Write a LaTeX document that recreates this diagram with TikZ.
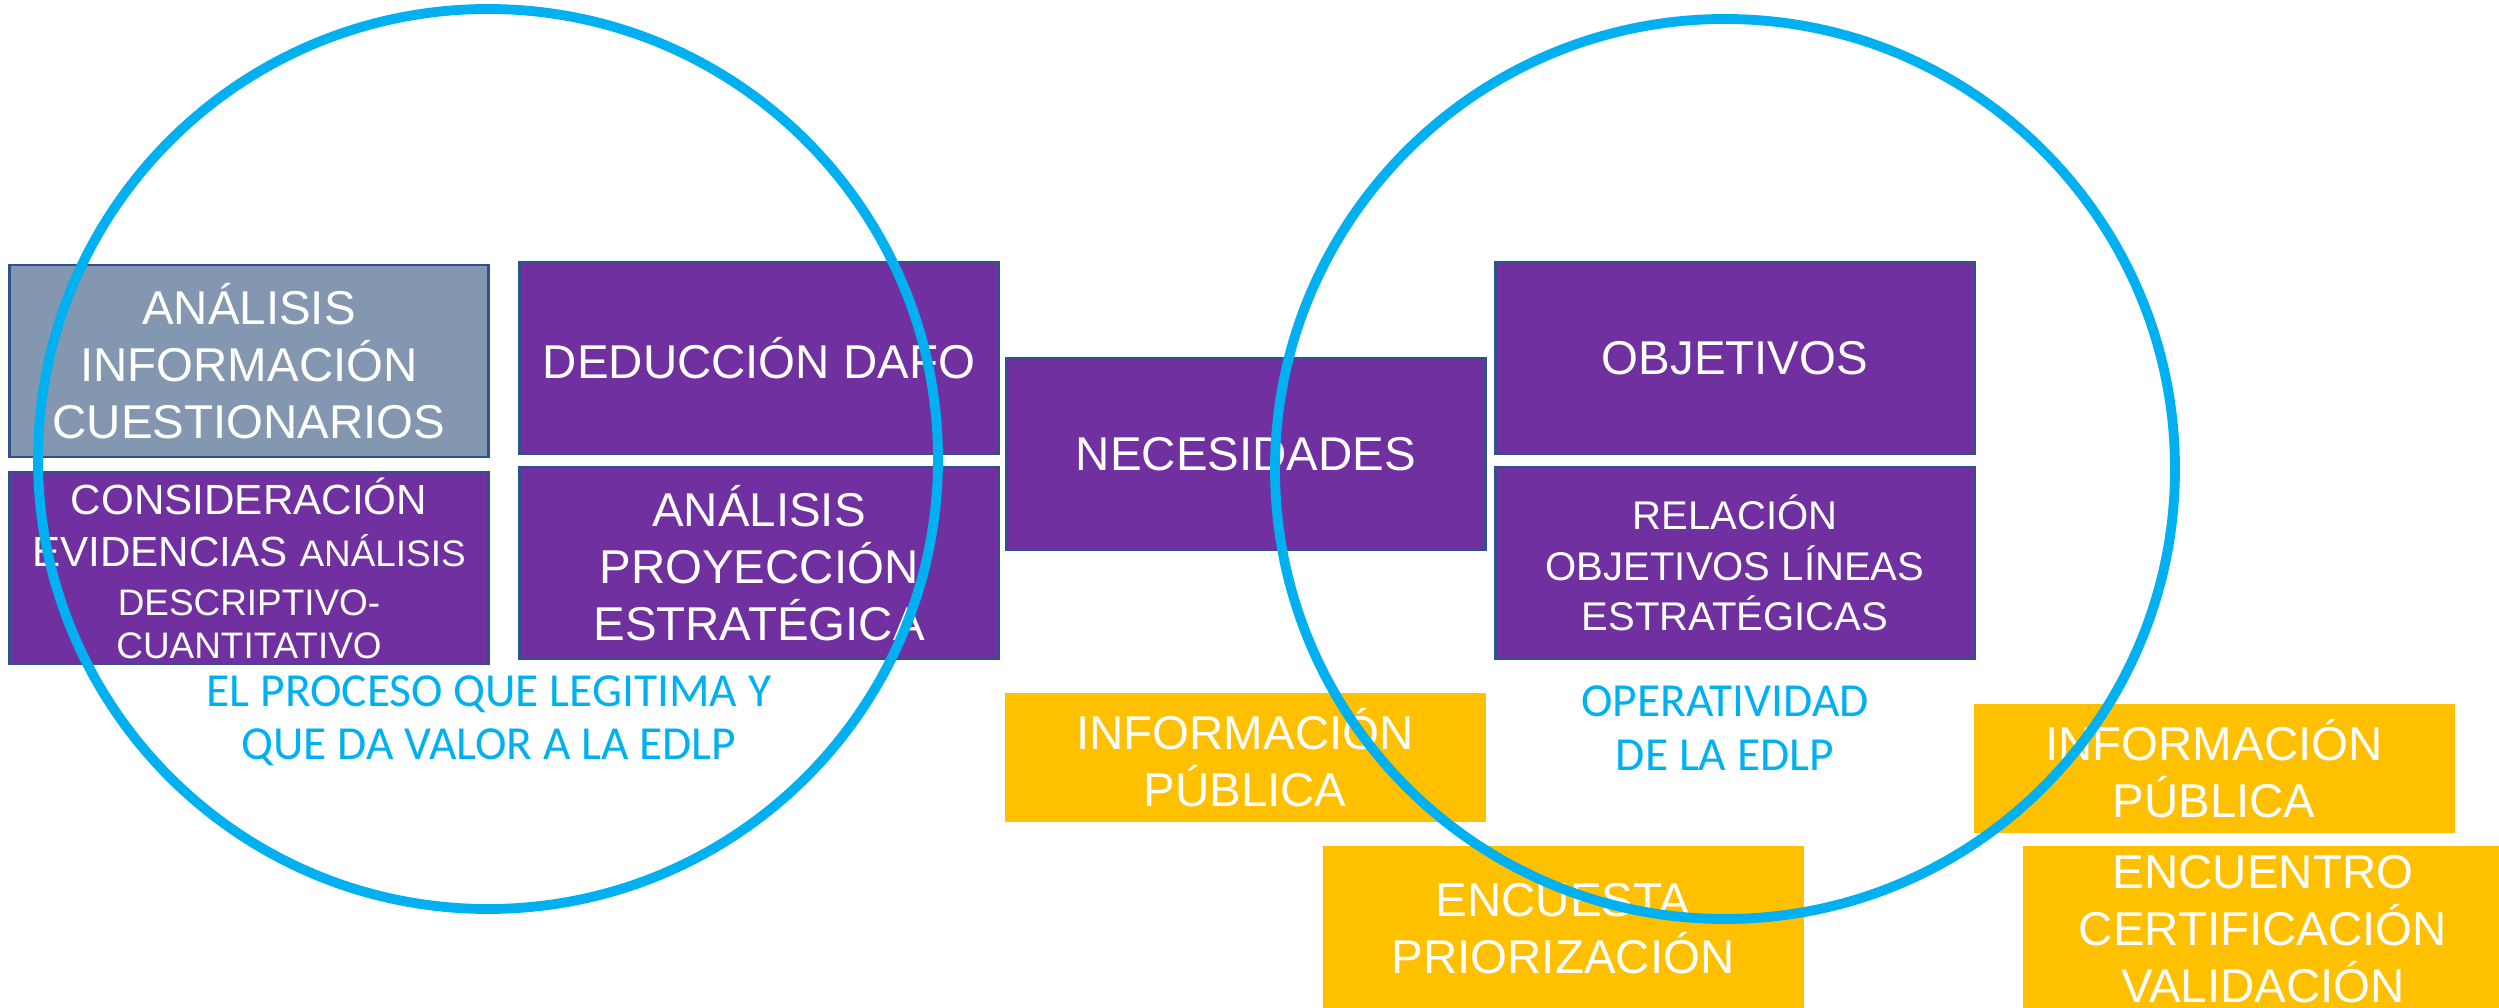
\documentclass[tikz,border=0pt]{standalone}
\usepackage{fontspec}
\setmainfont{Liberation Sans}
\newfontfamily\calibrifont{Carlito}
\definecolor{purplefill}{HTML}{7030A0}
\definecolor{greyfill}{HTML}{8497B0}
\definecolor{yellowfill}{HTML}{FFC000}
\definecolor{edgeblue}{HTML}{2F528F}
\definecolor{ringblue}{HTML}{00B0F0}
\begin{document}
\begin{tikzpicture}[
  box/.style={rectangle, minimum width=4.79cm, minimum height=1.92cm, inner sep=0pt, align=center, text=white, font=\fontsize{13.5}{16.2}\selectfont},
  purplebox/.style={box, fill=purplefill, draw=edgeblue, line width=0.6pt},
  greybox/.style={box, fill=greyfill, draw=edgeblue, line width=0.6pt},
  yellowbox/.style={box, fill=yellowfill, minimum width=4.81cm, minimum height=1.29cm},
  ring/.style={draw=ringblue, line width=2.8pt},
  caption/.style={text=ringblue, align=center, font=\calibrifont\fontsize{13.5}{15.2}\selectfont}
]
\useasboundingbox (0,0) rectangle (24.99,10.08);
\clip (0,0) rectangle (24.99,10.08);

\node [greybox] (cuestionarios) at (2.49,6.47) {ANÁLISIS\\INFORMACIÓN\\CUESTIONARIOS};
\node [purplebox, font=\fontsize{12}{15}\selectfont] (evidencias) at (2.49,4.40)
  {CONSIDERACIÓN\\EVIDENCIAS {\fontsize{10.5}{12}\selectfont ANÁLISIS}\\[-1pt]
   \fontsize{10.5}{12}\selectfont DESCRIPTIVO-\\[-3pt]
   \fontsize{10.5}{12}\selectfont CUANTITATIVO};

\node [purplebox] (dafo) at (7.59,6.50) {DEDUCCIÓN DAFO};
\node [purplebox] (proyeccion) at (7.59,4.45) {ANÁLISIS\\PROYECCIÓN\\ESTRATÉGICA};

\node [purplebox] (necesidades) at (12.46,5.54) {NECESIDADES};

\node [purplebox] (objetivos) at (17.35,6.50) {OBJETIVOS};
\node [purplebox, font=\fontsize{11.4}{14.3}\selectfont] (lineas) at (17.35,4.45) {RELACIÓN\\OBJETIVOS LÍNEAS\\ESTRATÉGICAS};

\node [yellowbox] (infoleft) at (12.45,2.50) {INFORMACIÓN\\PÚBLICA};
\node [yellowbox, minimum height=1.66cm] (encuesta) at (15.63,0.79) {ENCUESTA\\PRIORIZACIÓN};
\node [yellowbox] (inforight) at (22.14,2.39) {INFORMACIÓN\\PÚBLICA};
\node [yellowbox, minimum height=1.66cm] (encuentro) at (22.63,0.79) {ENCUENTRO\\CERTIFICACIÓN\\VALIDACIÓN};

\node [caption] (legitima) at (4.89,2.87) {EL PROCESO QUE LEGITIMA Y\\QUE DA VALOR A LA EDLP};
\node [caption] (operatividad) at (17.25,2.80) {OPERATIVIDAD\\DE LA EDLP};

\draw [ring] (4.88,5.49) circle (4.50);
\draw [ring] (17.25,5.39) circle (4.50);

\end{tikzpicture}
\end{document}
